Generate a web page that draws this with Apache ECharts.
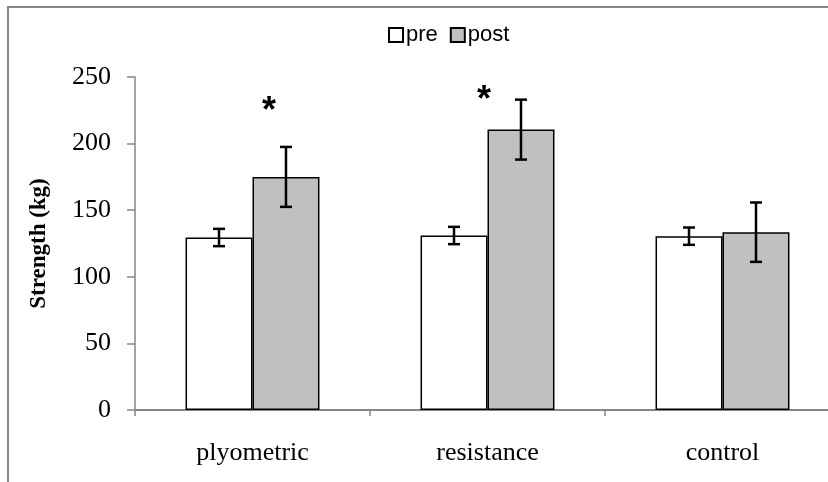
<!DOCTYPE html>
<html><head><meta charset="utf-8">
<script src="https://cdn.jsdelivr.net/npm/echarts@6/dist/echarts.min.js"></script>
<style>html,body{margin:0;padding:0;background:#fff}#c{width:828px;height:482px}</style>
</head><body><div id="c"></div>
<script>
var categories = ['plyometric', 'resistance', 'control'];
var preValues = [129.5, 131, 130.5];
var preErrors = [6.5, 6.5, 6.5];
var postValues = [175, 210.5, 133.5];
var postErrors = [22.5, 22.5, 22.3];
// significance markers: [category index, y value, x offset in category fraction]
var asterisks = [[0, 224, 0.07], [1, 232, -0.015]];
var yTicks = [0, 50, 100, 150, 200, 250];

var chart = echarts.init(document.getElementById('c'));
var BW = 0.285;
function errItem(sign) {
  return function (params, api) {
    var i = api.value(0);
    var v = api.value(1), e = api.value(2);
    var cw = api.size([1, 0])[0];
    var c = api.coord([i, v]);
    var x = c[0] + sign * cw * BW / 2;
    var top = api.coord([i, v + e])[1];
    var bot = api.coord([i, v - e])[1];
    var hw = 6;
    var st = {stroke: '#000', lineWidth: 2.5};
    return {type: 'group', children: [
      {type: 'line', shape: {x1: x, y1: top, x2: x, y2: bot}, style: st},
      {type: 'line', shape: {x1: x - hw, y1: top, x2: x + hw, y2: top}, style: st},
      {type: 'line', shape: {x1: x - hw, y1: bot, x2: x + hw, y2: bot}, style: st}
    ]};
  };
}
var option = {
  animation: false,
  backgroundColor: '#fff',
  graphic: [{type: 'rect', shape: {x: 8, y: 7, width: 900, height: 600}, style: {fill: 'none', stroke: '#868686', lineWidth: 2}, z: 0}],
  legend: {
    data: [{name: 'pre', icon: 'rect'}, {name: 'post', icon: 'rect'}],
    top: 19, left: 383, itemWidth: 14, itemHeight: 14, itemGap: 12,
    textStyle: {fontFamily: 'Liberation Sans', fontSize: 22, color: '#000', padding: [0, 0, 0, -2]}
  },
  grid: {left: 135, top: 77, bottom: 72, width: 705, outerBoundsMode: 'none', containLabel: false},
  xAxis: {
    type: 'category', data: categories,
    axisLine: {lineStyle: {color: '#868686', width: 2}},
    axisTick: {show: true, length: 6, lineStyle: {color: '#868686', width: 1.5}},
    axisLabel: {fontFamily: 'Liberation Serif', fontSize: 26, color: '#000', margin: 30}
  },
  yAxis: {
    type: 'value', min: 0, max: 250, interval: 50,
    name: 'Strength (kg)', nameLocation: 'middle', nameGap: 84,
    nameTextStyle: {fontFamily: 'Liberation Serif', fontWeight: 'bold', fontSize: 23, color: '#000'},
    axisLine: {show: true, lineStyle: {color: '#868686', width: 1.5}},
    axisTick: {show: true, length: 8, lineStyle: {color: '#868686', width: 1.5}},
    splitLine: {show: false},
    axisLabel: {fontFamily: 'Liberation Serif', fontSize: 26, color: '#000', margin: 24,
      formatter: function (v) { return yTicks.indexOf(v) >= 0 ? String(v) : ''; }}
  },
  series: [
    {name: 'pre', type: 'bar', data: preValues, barWidth: (BW * 100) + '%', barGap: '0%',
      itemStyle: {color: '#fff', borderColor: '#000', borderWidth: 1.5}},
    {name: 'post', type: 'bar', data: postValues, barWidth: (BW * 100) + '%', barGap: '0%',
      itemStyle: {color: '#c0c0c0', borderColor: '#000', borderWidth: 1.5}},
    {type: 'custom', renderItem: errItem(-1), z: 5,
      data: preValues.map(function (v, i) { return [i, v, preErrors[i]]; })},
    {type: 'custom', renderItem: errItem(1), z: 5,
      data: postValues.map(function (v, i) { return [i, v, postErrors[i]]; })},
    {type: 'custom', z: 6,
      renderItem: function (params, api) {
        var i = api.value(0);
        var cw = api.size([1, 0])[0];
        var c = api.coord([i, api.value(1)]);
        return {type: 'text', x: c[0] + api.value(2) * cw, y: c[1],
          style: {text: '*', fontFamily: 'Liberation Sans', fontWeight: 'bold', fontSize: 36, fill: '#000', align: 'center', verticalAlign: 'middle'}};
      },
      data: asterisks}
  ]
};
chart.setOption(option);
</script></body></html>
